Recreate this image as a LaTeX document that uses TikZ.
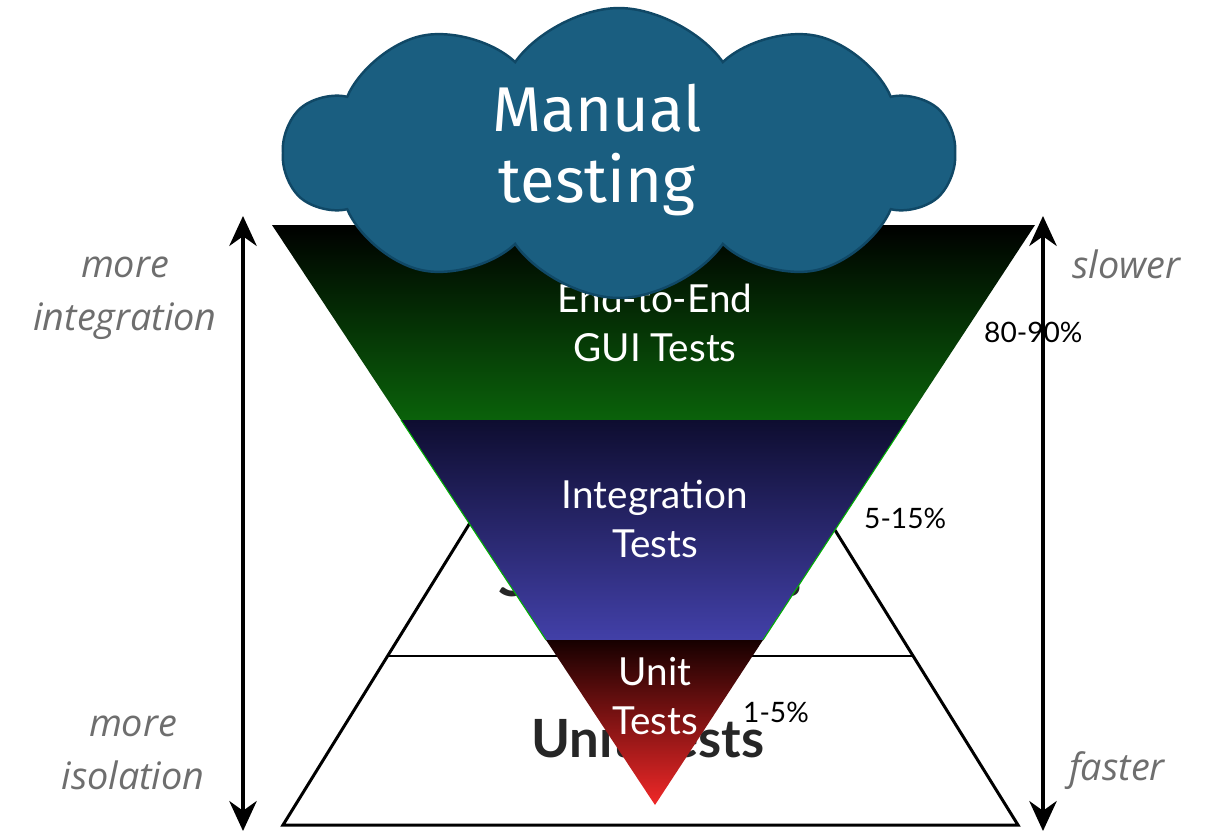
\documentclass[tikz,border=0pt]{standalone}
\usepackage{fontspec}
\setmainfont{Lato}
\newfontfamily\cloudfont{Fira Sans}
\newfontfamily\sidefont{Open Sans}
\usetikzlibrary{arrows.meta,shapes.symbols}
\definecolor{cloudblue}{RGB}{26,94,128}
\definecolor{cloudedge}{RGB}{16,72,102}
\definecolor{guigreen}{RGB}{10,98,10}
\definecolor{intnavy}{RGB}{14,13,48}
\definecolor{intblue}{RGB}{66,64,168}
\definecolor{unitdark}{RGB}{22,0,0}
\definecolor{unitred}{RGB}{240,40,40}
\definecolor{sidegray}{RGB}{110,110,110}

\begin{document}
\begin{tikzpicture}[x=0.02cm,y=-0.02cm,
    pyr/.style={line width=1.7pt},
    band/.style={white,align=center,font=\fontsize{22}{28}\selectfont},
    pct/.style={anchor=base west,font=\fontsize{16}{18}\selectfont},
    side/.style={sidegray,align=center,font=\sidefont\itshape\fontsize{21.5}{30}\selectfont},
    axis/.style={line width=1.8pt,{Stealth[length=0.6cm,width=0.55cm]}-{Stealth[length=0.6cm,width=0.55cm]}}]
    \useasboundingbox (0,0) rectangle (1205,832);
    \draw[pyr](283,825)--(650,232)--(1018,825)--cycle;
    \draw[pyr](388,656)--(912,656);
    \node[font=\bfseries\fontsize{30}{32}\selectfont,text=black!85](servicetxt) at (650,577){Service Tests};
    \node[font=\bfseries\fontsize{30}{32}\selectfont,text=black!85](unittxt) at (648,738){Unit Tests};
    \coordinate (tl) at (272,225); \coordinate (tr) at (1035,225); \coordinate (apex) at (655,805);
    \coordinate (gl) at (401,420); \coordinate (gr) at (907,420);
    \coordinate (bl) at (546,640); \coordinate (br) at (763,640);
    \shade[top color=black,middle color=black!55!guigreen,bottom color=guigreen](tl)--(tr)--(gr)--(gl)--cycle;
    \shade[top color=intnavy,bottom color=intblue](gl)--(gr)--(br)--(bl)--cycle;
    \shade[top color=unitdark,bottom color=unitred](bl)--(br)--(apex)--cycle;
    \draw[green!70!black,line width=0.6pt](gl)--(bl) (gr)--(br);
    \node[band](e2e) at (655,323){End-to-End\\GUI Tests};
    \node[band](integ) at (655,519){Integration\\Tests};
    \node[band](unit) at (655,696){Unit\\Tests};
    \node[pct](p1) at (978,342){80-90\%};
    \node[pct](p2) at (858,528){5-15\%};
    \node[pct](p3) at (737,722){1-5\%};
    \coordinate (lt) at (243,216); \coordinate (lb) at (243,831);
    \coordinate (rt) at (1043,216); \coordinate (rb) at (1043,831);
    \draw[axis](lb)--(lt);
    \draw[axis](rb)--(rt);
    \node[side](moreint) at (125,298){more\\integration};
    \node[side](moreiso) at (133,753){more\\isolation};
    \node[side,anchor=base west](slower) at (1066,278){slower};
    \node[side,anchor=base west](faster) at (1063,780){faster};
    \node[cloud,cloud puffs=10,cloud puff arc=110,aspect=2.3,fill=cloudblue,draw=cloudedge,line width=1.4pt,
      minimum width=13.4cm,minimum height=5.8cm](cloud) at (619,153){};
    \node[white,align=center,font=\cloudfont\fontsize{36}{40}\selectfont](manual) at (597,150){Manual\\testing};
  \end{tikzpicture}
\end{document}
